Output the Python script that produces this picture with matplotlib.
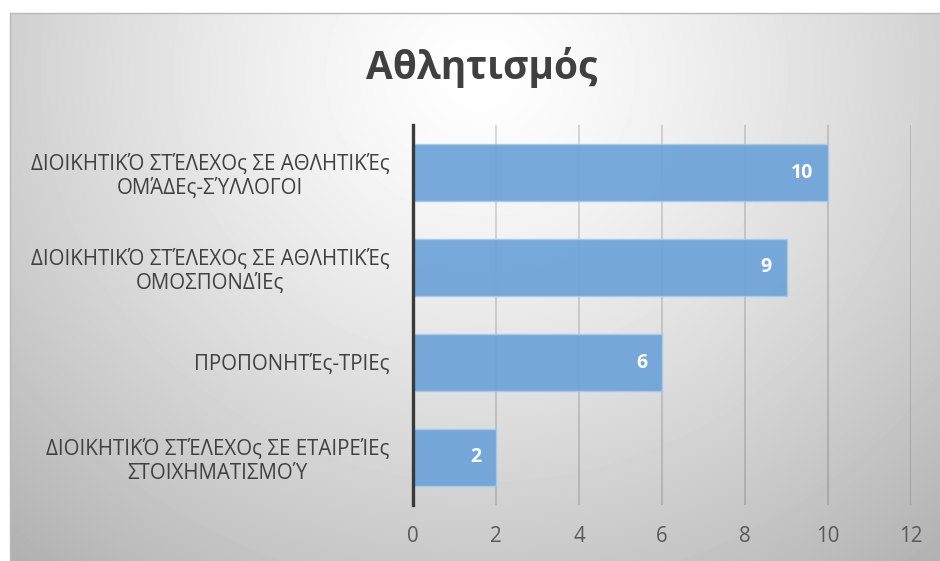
import matplotlib.pyplot as plt
import numpy as np

plt.rcParams['font.family'] = ['Open Sans', 'DejaVu Sans']

# data, top to bottom as in the chart
categories = ['ΔΙΟΙΚΗΤΙΚΌ ΣΤΈΛΕΧΟς ΣΕ ΑΘΛΗΤΙΚΈς\nΟΜΆΔΕς-ΣΎΛΛΟΓΟΙ',
              'ΔΙΟΙΚΗΤΙΚΌ ΣΤΈΛΕΧΟς ΣΕ ΑΘΛΗΤΙΚΈς\nΟΜΟΣΠΟΝΔΊΕς',
              'ΠΡΟΠΟΝΗΤΈς-ΤΡΙΕς',
              'ΔΙΟΙΚΗΤΙΚΌ ΣΤΈΛΕΧΟς ΣΕ ΕΤΑΙΡΕΊΕς\nΣΤΟΙΧΗΜΑΤΙΣΜΟΎ']
values = [10, 9, 6, 2]
xticks = [0, 2, 4, 6, 8, 10, 12]
title = 'Αθλητισμός'

W, H = 940, 561
fig = plt.figure(figsize=(W / 100, H / 100), dpi=100)
fig.patch.set_facecolor('white')

# radial gradient background for the chart frame
bg = fig.add_axes([10 / W, 0, 930 / W, 548 / H])
yy, xx = np.mgrid[0:548, 0:930]
r = np.sqrt(((xx - 470) / 560.0) ** 2 + ((yy - 60) / 520.0) ** 2)
shade = np.clip(1.0 - 0.23 * r ** 1.3, 0, 1)
bg.imshow(shade, cmap='gray', vmin=0, vmax=1, aspect='auto',
          extent=[0, 1, 0, 1], interpolation='bilinear')
bg.set_xlim(0, 1)
bg.set_ylim(0, 1)
bg.set_xticks([])
bg.set_yticks([])
for s in ['right', 'bottom']:
    bg.spines[s].set_visible(False)
for s in ['top', 'left']:
    bg.spines[s].set_color('#b8b8b8')
    bg.spines[s].set_linewidth(1)

ax = fig.add_axes([413 / W, 56 / H, 498 / W, 380 / H])
ax.set_facecolor('none')
ypos = np.arange(len(categories))
bars = ax.barh(ypos, values, height=0.59, color='#6FA5D8', alpha=0.95,
               edgecolor='#A8CAEA', linewidth=1, zorder=3)
ax.set_xlim(0, 12)
ax.set_ylim(len(categories) - 0.5, -0.5)
ax.set_xticks(xticks)
ax.set_xticklabels([str(t) for t in xticks])
ax.set_yticks(ypos)
ax.set_yticklabels(categories, ma='center')
ax.tick_params(axis='both', length=0, labelsize=14.8, colors='#595959')
ax.tick_params(axis='x', pad=15)
ax.tick_params(axis='y', pad=17)
for lbl in ax.get_yticklabels():
    lbl.set_color('#404040')

ax.grid(axis='x', color='black', alpha=0.16, linewidth=1.2, zorder=0)
for s in ['top', 'right', 'bottom']:
    ax.spines[s].set_visible(False)
ax.spines['left'].set_color('#3a3a3a')
ax.spines['left'].set_linewidth(2.4)
ax.spines['left'].set_zorder(4)

for b, v in zip(bars, values):
    ax.text(v - 0.35, b.get_y() + b.get_height() / 2, str(v),
            ha='right', va='center', color='white', fontsize=14,
            fontweight='bold', zorder=5)

fig.text(482 / W, 1 - 68 / H, title, ha='center', va='center',
         fontsize=28, fontweight='bold', color='#404040')

fig.savefig('out.png', dpi=100)
